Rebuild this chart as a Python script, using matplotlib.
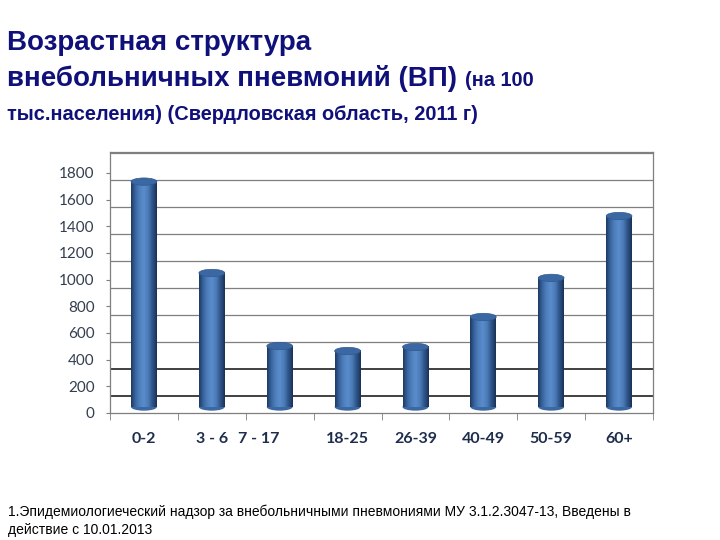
import matplotlib.pyplot as plt
import numpy as np
from matplotlib.colors import LinearSegmentedColormap
from matplotlib.patches import Ellipse

# data (cases per 100k)
age_groups = ['0-2', '3 - 6', '7 - 17', '18-25', '26-39', '40-49', '50-59', '60+']
rates = [1690, 1005, 457, 420, 450, 675, 968, 1432]
y_ticks = [0, 200, 400, 600, 800, 1000, 1200, 1400, 1600, 1800]

title_color = '#10107A'
label_color = '#1F2D4D'

fig = plt.figure(figsize=(7.2, 5.4), dpi=100)
fig.patch.set_facecolor('white')

# title block
fig.text(7 / 720, 1 - 43 / 540, 'Возрастная структура', fontsize=20, fontweight='bold',
         color=title_color, family='Liberation Sans', va='center')
t2 = fig.text(7 / 720, 1 - 79 / 540, 'внебольничных пневмоний (ВП)', fontsize=20,
              fontweight='bold', color=title_color, family='Liberation Sans', va='center')
fig.canvas.draw()
bb = t2.get_window_extent()
fig.text((bb.x1 + 8) / 720, 1 - 81 / 540, '(на 100', fontsize=14.4, fontweight='bold',
         color=title_color, family='Liberation Sans', va='center')
fig.text(7 / 720, 1 - 114 / 540, 'тыс.населения) (Свердловская область, 2011 г)', fontsize=14.4,
         fontweight='bold', color=title_color, family='Liberation Sans', va='center')

# footnote
fig.text(8 / 720, 1 - 512 / 540,
         '1.Эпидемиологиеческий надзор за внебольничными пневмониями МУ 3.1.2.3047-13, Введены в',
         fontsize=10, color='black', family='Liberation Sans', va='center')
fig.text(8 / 720, 1 - 530 / 540, 'действие с 10.01.2013', fontsize=10, color='black',
         family='Liberation Sans', va='center')

ax = fig.add_axes([110 / 720, 127 / 540, 543 / 720, 261 / 540])

# back wall gridlines (shifted up by the 3D depth)
depth = 127
for v in y_ticks:
    lw = 1.4 if v <= 200 else 0.9
    col = '#404040' if v <= 200 else '#7F7F7F'
    ax.axhline(v * 1.0125 + depth, color=col, lw=lw, zorder=1)

# cylinder shading
cyl = LinearSegmentedColormap.from_list(
    'cyl', ['#1E3A63', '#3A66A0', '#4F80BE', '#5A8CCB', '#4C7BB6', '#2E5489', '#1A3257'])
grad = np.linspace(0, 1, 64).reshape(1, -1)
w = 0.38
base = 45
eh = 55
for i, v in enumerate(rates):
    ax.imshow(grad, cmap=cyl, aspect='auto', extent=[i - w / 2, i + w / 2, base, base + v],
              zorder=3, interpolation='bilinear')
    ax.add_patch(Ellipse((i, base), w, eh, facecolor='#3C68A2', edgecolor='none', zorder=2.9))
    ax.add_patch(Ellipse((i, base + v), w, eh, facecolor='#3B67A3', edgecolor='#2F5A90',
                         lw=0.5, zorder=4))

ax.set_xlim(-0.5, len(age_groups) - 0.5)
ax.set_ylim(0, 1957)

for s in ['top', 'left', 'right', 'bottom']:
    ax.spines[s].set_color('#7F7F7F')
    ax.spines[s].set_linewidth(0.9)

ax.set_yticks(y_ticks)
ax.set_yticklabels([str(v) for v in y_ticks], fontsize=11, color='#333F50', family='Lato')
ax.tick_params(axis='y', length=3, color='#7F7F7F', pad=8)

ax.set_xticks(np.arange(len(age_groups) + 1) - 0.5, minor=True)
ax.set_xticks(np.arange(len(age_groups)))
ax.set_xticklabels(age_groups, fontsize=11.5, fontweight='bold', color=label_color, family='Lato')
ax.tick_params(axis='x', which='major', length=0, pad=14)
ax.tick_params(axis='x', which='minor', length=5, color='#7F7F7F')
ax.get_xticklabels()[2].set_horizontalalignment('right')
ax.get_xticklabels()[2].set_x(2.12)

fig.savefig('out.png', dpi=100, facecolor='white')
